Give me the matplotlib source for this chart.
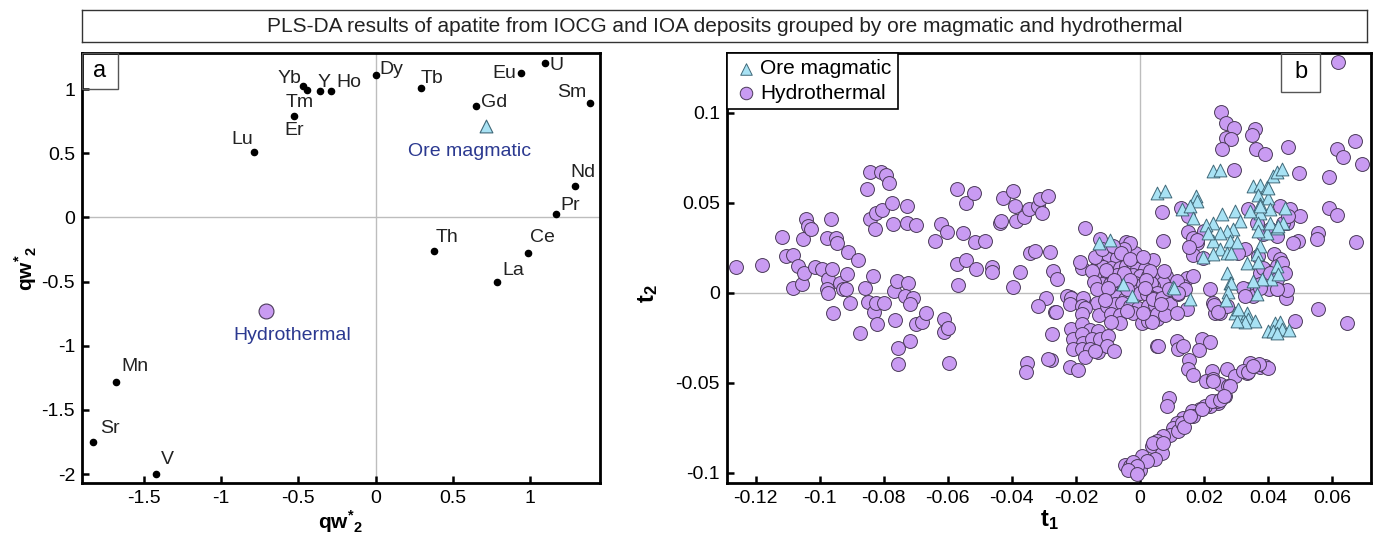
import matplotlib
matplotlib.use("Agg")
import matplotlib.pyplot as plt
from matplotlib.ticker import FuncFormatter, MultipleLocator
from matplotlib.patches import Rectangle

plt.rcParams['font.family'] = ['Liberation Sans', 'DejaVu Sans']
plt.rcParams['axes.unicode_minus'] = False
plt.rcParams['mathtext.fontset'] = 'custom'
plt.rcParams['mathtext.rm'] = 'Liberation Sans'
plt.rcParams['mathtext.bf'] = 'Liberation Sans:bold'

# ---- panel a: loadings ----
elements = ['Yb', 'Tm', 'Er', 'Y', 'Ho', 'Dy', 'Tb', 'Lu', 'Th', 'Gd', 'Eu', 'U',
            'Sm', 'Nd', 'Pr', 'Ce', 'La', 'Mn', 'Sr', 'V']
load_x = [-0.468, -0.446, -0.528, -0.36, -0.29, 0.0, 0.293, -0.788, 0.379, 0.652, 0.941, 1.099,
          1.385, 1.294, 1.168, 0.985, 0.786, -1.68, -1.826, -1.421]
load_y = [1.021, 0.99, 0.787, 0.985, 0.985, 1.11, 1.011, 0.512, -0.262, 0.871, 1.125, 1.203,
          0.896, 0.247, 0.026, -0.278, -0.507, -1.283, -1.754, -2.003]
groups = ['Ore magmatic', 'Hydrothermal']
group_x = [0.714, -0.709]
group_y = [0.709, -0.727]

# label offsets in points (dx, dy)
label_offsets = {
    'Yb': (-10, 5.5), 'Tm': (-5, -9), 'Er': (0, -10), 'Y': (3, 6.5), 'Ho': (13, 6),
    'Dy': (11.5, 4), 'Tb': (8, 6.5), 'Lu': (-8, 9), 'Th': (9, 10), 'Gd': (12.5, 2.5),
    'Eu': (-12, 0), 'U': (8, -2), 'Sm': (-12.5, 7.5), 'Nd': (5.5, 9.5), 'Pr': (10, 6),
    'Ce': (10.5, 11), 'La': (11.5, 8.5), 'Mn': (14, 11), 'Sr': (12, 10), 'V': (8.5, 11),
}

# ---- panel b: scores ----
hydro_points = [
    (-0.1263, 0.0144), (-0.1180, 0.0152), (-0.1117, 0.0311), (-0.1106, 0.0203), (-0.1085, 0.0207),
    (-0.1083, 0.0028), (-0.1068, 0.0148), (-0.1054, 0.0296), (-0.1056, 0.0050), (-0.1050, 0.0107),
    (-0.1044, 0.0407), (-0.1037, 0.0370), (-0.1026, 0.0352), (-0.1016, 0.0144), (-0.0992, 0.0129),
    (-0.0979, 0.0306), (-0.0974, 0.0074), (-0.0979, 0.0018), (-0.0974, 0.0000), (-0.0964, 0.0411),
    (-0.0961, 0.0133), (-0.0948, 0.0306), (-0.0946, 0.0274), (-0.0938, 0.0052), (-0.0929, 0.0022),
    (-0.0915, 0.0102), (-0.0917, 0.0018), (-0.0911, 0.0228), (-0.0882, 0.0179), (-0.0859, 0.0026),
    (-0.0854, 0.0574), (-0.0844, 0.0672), (-0.0842, 0.0407), (-0.0833, 0.0093), (-0.0828, 0.0356),
    (-0.0823, 0.0444), (-0.0810, 0.0670), (-0.0807, 0.0459), (-0.0792, 0.0652), (-0.0783, 0.0611),
    (-0.0776, 0.0500), (-0.0771, 0.0383), (-0.0768, 0.0009), (-0.0760, 0.0064), (-0.0729, 0.0481),
    (-0.0729, 0.0389), (-0.0724, 0.0055), (-0.0734, -0.0019), (-0.0698, 0.0376), (-0.0708, -0.0028),
    (-0.0641, 0.0287), (-0.0620, 0.0380), (-0.0602, 0.0337), (-0.0570, 0.0574), (-0.0570, 0.0157),
    (-0.0568, 0.0042), (-0.0554, 0.0329), (-0.0544, 0.0179), (-0.0542, 0.0500), (-0.0519, 0.0556),
    (-0.0516, 0.0281), (-0.0512, 0.0129), (-0.0484, 0.0287), (-0.0463, 0.0144), (-0.0463, 0.0117),
    (-0.0438, 0.0389), (-0.0434, 0.0398), (-0.0427, 0.0524), (-0.0398, 0.0031), (-0.0396, 0.0565),
    (-0.0391, 0.0481), (-0.0388, 0.0398), (-0.0375, 0.0115), (-0.0361, 0.0422), (-0.0346, 0.0463),
    (-0.0344, 0.0218), (-0.0328, 0.0229), (-0.0318, 0.0481), (-0.0313, 0.0518), (-0.0307, 0.0440),
    (-0.0287, 0.0537), (-0.0281, 0.0228), (-0.0273, 0.0120), (-0.0260, 0.0074), (-0.0292, -0.0028),
    (-0.0318, -0.0074),
    (-0.0958, -0.0111), (-0.0906, -0.0059), (-0.0875, -0.0226), (-0.0849, -0.0052), (-0.0831, -0.0108),
    (-0.0825, -0.0059), (-0.0821, -0.0171), (-0.0800, -0.0056), (-0.0766, -0.0152), (-0.0755, -0.0306),
    (-0.0755, -0.0393), (-0.0719, -0.0065), (-0.0719, -0.0269), (-0.0698, -0.0176), (-0.0682, -0.0163),
    (-0.0669, -0.0115), (-0.0613, -0.0144), (-0.0613, -0.0219), (-0.0599, -0.0198), (-0.0596, -0.0389),
    (-0.0354, -0.0389), (-0.0356, -0.0441), (-0.0279, -0.0374), (-0.0287, -0.0370), (-0.0276, -0.0228),
    (-0.0266, -0.0106),
    (0.0620, 0.1283), (0.0252, 0.1003), (0.0268, 0.0941), (0.0295, 0.0913), (0.0269, 0.0861),
    (0.0284, 0.0856), (0.0255, 0.0800), (0.0359, 0.0907), (0.0349, 0.0874), (0.0363, 0.0796),
    (0.0391, 0.0772), (0.0464, 0.0811), (0.0672, 0.0842), (0.0615, 0.0796), (0.0633, 0.0755),
    (0.0695, 0.0716), (0.0295, 0.0681), (0.0497, 0.0667), (0.0591, 0.0642), (0.0592, 0.0468),
    (0.0615, 0.0429), (0.0675, 0.0281), (0.0557, 0.0329), (0.0554, 0.0300), (0.0493, 0.0287),
    (0.0479, 0.0278), (0.0068, 0.0448), (0.0071, 0.0287), (0.0127, 0.0472), (0.0151, 0.0426),
    (0.0149, 0.0337), (0.0167, 0.0306), (0.0177, 0.0278), (0.0200, 0.0342), (0.0167, 0.0207),
    (0.0219, 0.0018), (0.0328, 0.0244), (0.0307, 0.0222), (0.0338, 0.0463), (0.0365, 0.0389),
    (0.0385, 0.0324), (0.0406, 0.0352), (0.0427, 0.0315), (0.0438, 0.0481), (0.0469, 0.0463),
    (0.0500, 0.0426), (0.0458, 0.0389), (0.0370, 0.0203), (0.0419, 0.0213), (0.0438, 0.0185),
    (0.0396, 0.0120), (0.0427, 0.0148), (0.0375, 0.0111), (0.0404, 0.0022), (0.0432, 0.0022),
    (0.0456, -0.0028), (0.0458, 0.0015), (0.0328, 0.0022), (0.0557, -0.0089),
    (-0.0172, 0.0361), (-0.0182, 0.0139), (-0.0188, 0.0170), (-0.0219, -0.0022), (-0.0172, -0.0070),
    (-0.0125, 0.0300), (-0.0042, 0.0281), (0.0042, 0.0181), (-0.0016, 0.0222),
    (0.0177, 0.0293), (0.0154, 0.0256), (0.0198, 0.0194), (0.0448, 0.0389), (0.0464, 0.0426),
    (0.0443, 0.0167), (0.0146, 0.0083), (0.0167, 0.0093), (0.0136, 0.0037), (0.0083, 0.0093),
    (0.0052, 0.0093), (0.0115, 0.0065), (0.0073, 0.0056), (0.0042, 0.0037), (0.0385, 0.0139),
    (0.0406, 0.0111), (0.0427, 0.0074), (0.0375, 0.0046), (0.0344, 0.0019), (0.0323, 0.0028),
    (0.0354, -0.0018), (0.0453, 0.0111),
    (-0.0031, 0.0278), (-0.0050, 0.0244), (-0.0109, 0.0222), (-0.0099, 0.0185), (-0.0073, 0.0194),
    (-0.0130, 0.0157), (-0.0115, 0.0144), (-0.0089, 0.0139), (-0.0063, 0.0139), (-0.0042, 0.0148),
    (-0.0021, 0.0167), (-0.0010, 0.0130), (0.0016, 0.0133),
    (-0.0125, 0.0093), (-0.0099, 0.0093), (-0.0073, 0.0096), (-0.0047, 0.0093), (-0.0021, 0.0096),
    (0.0000, 0.0093), (0.0026, 0.0093), (-0.0120, 0.0046), (-0.0094, 0.0046), (-0.0068, 0.0052),
    (-0.0042, 0.0052), (-0.0016, 0.0055), (0.0010, 0.0046), (0.0036, 0.0052), (-0.0115, 0.0000),
    (-0.0083, -0.0004), (-0.0057, -0.0004), (0.0000, 0.0000), (0.0026, -0.0004), (0.0052, -0.0004),
    (-0.0229, -0.0019), (-0.0214, -0.0028), (-0.0177, -0.0028), (-0.0219, -0.0065), (-0.0182, -0.0074),
    (-0.0135, -0.0056), (-0.0262, -0.0107), (-0.0172, -0.0083), (-0.0182, -0.0120), (-0.0127, -0.0126),
    (-0.0099, -0.0009), (-0.0073, -0.0022), (-0.0047, -0.0033), (0.0021, -0.0009), (0.0042, -0.0028),
    (-0.0104, -0.0074), (-0.0078, -0.0065), (-0.0057, -0.0056), (-0.0031, -0.0074), (-0.0005, -0.0083),
    (0.0026, -0.0074), (0.0047, -0.0070), (-0.0089, -0.0120), (-0.0063, -0.0126), (-0.0021, -0.0115),
    (0.0005, -0.0167), (0.0026, -0.0157), (0.0052, -0.0144), (-0.0063, -0.0167), (0.0052, -0.0296),
    (-0.0214, -0.0204), (-0.0182, -0.0176), (-0.0156, -0.0207), (-0.0130, -0.0213), (-0.0208, -0.0259),
    (-0.0182, -0.0231), (-0.0177, -0.0278), (-0.0151, -0.0259), (-0.0125, -0.0259), (-0.0099, -0.0241),
    (-0.0208, -0.0311), (-0.0182, -0.0315), (-0.0156, -0.0311), (-0.0130, -0.0330), (-0.0102, -0.0293),
    (-0.0081, -0.0324), (-0.0172, -0.0355), (-0.0141, -0.0324), (-0.0219, -0.0411), (-0.0193, -0.0430),
    (0.0042, -0.0037), (0.0068, -0.0028), (0.0094, -0.0065), (0.0120, -0.0009), (0.0146, -0.0089),
    (0.0052, -0.0120), (0.0078, -0.0126), (0.0115, -0.0111), (0.0037, -0.0163), (0.0229, -0.0059),
    (0.0234, -0.0111), (0.0250, -0.0115), (0.0271, -0.0074), (0.0231, -0.0070), (0.0245, -0.0107),
    (0.0328, -0.0019), (0.0427, 0.0022), (0.0375, 0.0028), (0.0484, -0.0157), (0.0648, -0.0170),
    (0.0057, -0.0296), (0.0115, -0.0269), (0.0120, -0.0315), (0.0136, -0.0293), (0.0193, -0.0259),
    (0.0219, -0.0274), (0.0186, -0.0319), (0.0154, -0.0374), (0.0151, -0.0426), (0.0167, -0.0454),
    (0.0224, -0.0435), (0.0208, -0.0491), (0.0227, -0.0481), (0.0250, -0.0509), (0.0273, -0.0422),
    (0.0297, -0.0463), (0.0276, -0.0519), (0.0266, -0.0574), (0.0245, -0.0611), (0.0219, -0.0630),
    (0.0344, -0.0389), (0.0335, -0.0444), (0.0375, -0.0411), (0.0391, -0.0404), (0.0401, -0.0417),
    (0.0323, -0.0435), (0.0092, -0.0583), (0.0085, -0.0626), (0.0339, -0.0441), (0.0373, -0.0398),
    (0.0354, -0.0407), (0.0229, -0.0491), (0.0281, -0.0515),
    (0.0188, -0.0648), (0.0162, -0.0657), (0.0136, -0.0694), (0.0115, -0.0722), (0.0104, -0.0750),
    (0.0094, -0.0787), (0.0073, -0.0796), (0.0052, -0.0824), (0.0037, -0.0852), (0.0068, -0.0889),
    (0.0120, -0.0768), (0.0167, -0.0685), (0.0203, -0.0630), (0.0240, -0.0602), (0.0047, -0.0922),
    (0.0042, -0.0833), (0.0073, -0.0833), (0.0130, -0.0722), (0.0138, -0.0744), (0.0156, -0.0685),
    (0.0193, -0.0644), (0.0224, -0.0602), (0.0250, -0.0593), (0.0263, -0.0574),
    (-0.0047, -0.0954), (-0.0031, -0.0963), (-0.0016, -0.0991), (0.0000, -0.0982), (0.0005, -0.0907),
    (0.0021, -0.0935), (-0.0023, -0.0941), (-0.0010, -0.0959), (-0.0036, -0.0985), (-0.0008, -0.1004),
    (-0.0140, 0.0200), (-0.0120, 0.0240), (-0.0085, 0.0260), (-0.0060, 0.0220), (-0.0030, 0.0190),
    (0.0010, 0.0200), (-0.0150, 0.0120), (-0.0145, 0.0060), (-0.0135, 0.0020), (0.0075, 0.0120),
    (0.0090, 0.0020), (0.0065, -0.0060), (-0.0105, 0.0125), (-0.0050, 0.0110), (0.0030, 0.0120),
    (-0.0080, 0.0070), (-0.0030, 0.0070), (0.0020, 0.0070), (-0.0100, 0.0025), (-0.0040, 0.0020),
    (0.0015, 0.0025), (-0.0110, -0.0040), (-0.0040, -0.0100), (0.0010, -0.0110), (-0.0090, -0.0160),
    (0.0140, 0.0020), (0.0120, 0.0000),
]
ore_points = [
    (0.0229, 0.0676), (0.0250, 0.0681), (0.0052, 0.0555), (0.0078, 0.0565), (0.0175, 0.0537),
    (0.0177, 0.0509), (0.0130, 0.0467), (0.0156, 0.0481), (0.0165, 0.0417), (0.0354, 0.0593),
    (0.0375, 0.0596), (0.0396, 0.0589), (0.0417, 0.0648), (0.0427, 0.0670), (0.0443, 0.0689),
    (0.0370, 0.0541), (0.0401, 0.0528), (0.0375, 0.0491), (0.0406, 0.0467), (0.0375, 0.0444),
    (0.0344, 0.0454), (0.0453, 0.0472), (0.0255, 0.0435), (0.0297, 0.0454), (0.0313, 0.0398),
    (0.0229, 0.0389), (0.0208, 0.0374), (0.0292, 0.0352), (0.0271, 0.0342), (0.0250, 0.0333),
    (0.0281, 0.0287), (0.0302, 0.0281), (0.0229, 0.0287), (0.0214, 0.0330), (0.0250, 0.0241),
    (0.0271, 0.0222), (0.0229, 0.0213), (0.0198, 0.0200), (0.0286, 0.0222), (0.0370, 0.0389),
    (0.0396, 0.0333), (0.0427, 0.0361), (0.0448, 0.0389), (0.0406, 0.0389), (0.0370, 0.0343),
    (0.0375, 0.0259), (0.0333, 0.0167), (0.0365, 0.0213), (0.0427, 0.0148), (0.0411, 0.0074),
    (0.0380, 0.0078), (0.0354, 0.0065), (0.0365, -0.0009), (0.0271, 0.0111), (0.0281, 0.0055),
    (0.0156, -0.0033), (0.0104, 0.0033), (-0.0052, 0.0046), (-0.0026, -0.0019), (-0.0128, 0.0278),
    (-0.0094, 0.0292), (0.0286, 0.0052), (0.0276, 0.0004), (0.0269, -0.0041), (0.0297, -0.0111),
    (0.0313, -0.0130), (0.0333, -0.0111), (0.0339, -0.0148), (0.0359, -0.0157), (0.0328, -0.0163),
    (0.0302, -0.0157), (0.0307, -0.0089), (0.0422, -0.0167), (0.0438, -0.0163), (0.0401, -0.0213),
    (0.0417, -0.0213), (0.0443, -0.0204), (0.0467, -0.0207), (0.0427, -0.0222), (0.0370, 0.0170),
    (0.0432, 0.0102), (0.0106, 0.0028), (0.0401, 0.0583), (0.0375, 0.0481), (0.0432, 0.0370),
]
hydro_t1 = [p[0] for p in hydro_points]
hydro_t2 = [p[1] for p in hydro_points]
ore_t1 = [p[0] for p in ore_points]
ore_t2 = [p[1] for p in ore_points]

purple = '#c99bf2'
purple_edge = '#4a3a58'
blue = '#a8e2f4'
blue_edge = '#3f6878'


def tick_fmt(v, pos):
    if abs(v) < 1e-9:
        return '0'
    return '%g' % round(v, 6)


def style_axes(ax):
    for s in ax.spines.values():
        s.set_linewidth(2)
        s.set_color('black')
    ax.tick_params(direction='in', length=5, width=1.8, labelsize=14, top=False, right=False,
                   pad=5)
    ax.xaxis.set_major_formatter(FuncFormatter(tick_fmt))
    ax.yaxis.set_major_formatter(FuncFormatter(tick_fmt))
    ax.axhline(0, color='#bdbdbd', lw=1, zorder=0)
    ax.axvline(0, color='#bdbdbd', lw=1, zorder=0)


qw_label = r'$\mathbf{qw}^{\mathbf{*}}{}_{\mathbf{2}}$'

fig = plt.figure(figsize=(13.8, 5.36), dpi=100)

# title box
tax = fig.add_axes([0.0594, 0.9216, 0.931, 0.0597])
tax.set_xticks([])
tax.set_yticks([])
for s in tax.spines.values():
    s.set_linewidth(1)
    s.set_color('#333333')
tax.text(0.5, 0.48, 'PLS-DA results of apatite from IOCG and IOA deposits grouped by ore magmatic and hydrothermal',
         ha='center', va='center', fontsize=15, color='#222222')

# panel a
ax1 = fig.add_axes([0.0594, 0.0989, 0.3754, 0.802])
style_axes(ax1)
ax1.set_xlim(-1.90, 1.453)
ax1.set_ylim(-2.07, 1.281)
ax1.xaxis.set_major_locator(MultipleLocator(0.5))
ax1.yaxis.set_major_locator(MultipleLocator(0.5))
ax1.scatter(load_x, load_y, s=20, color='black', zorder=3)
for name, x, y in zip(elements, load_x, load_y):
    dx, dy = label_offsets[name]
    ax1.annotate(name, (x, y), xytext=(dx, dy), textcoords='offset points',
                 ha='center', va='center', fontsize=14, color='#222222')
ax1.scatter(group_x[:1], group_y[:1], marker='^', s=85, color=blue, edgecolor=blue_edge,
            linewidth=0.8, zorder=3)
ax1.scatter(group_x[1:], group_y[1:], marker='o', s=115, color=purple, edgecolor=purple_edge,
            linewidth=0.8, zorder=3)
ax1.text(0.61, 0.515, groups[0], ha='center', va='center', fontsize=14, color='#2b3990')
ax1.text(-0.54, -0.92, groups[1], ha='center', va='center', fontsize=14, color='#2b3990')
ax1.set_xlabel(qw_label, fontsize=15, labelpad=0)
ax1.set_ylabel(qw_label, fontsize=15, labelpad=2)
ax1.xaxis.set_label_coords(0.5, -0.058)
ax1.add_patch(Rectangle((0, 0.9163), 0.0695, 0.0837, transform=ax1.transAxes, fill=False,
                        edgecolor='#555555', lw=1, zorder=5))
ax1.text(0.0348, 0.958, 'a', transform=ax1.transAxes, ha='center', va='center', fontsize=17)

# panel b
ax2 = fig.add_axes([0.5268, 0.0989, 0.4667, 0.802])
style_axes(ax2)
ax2.set_xlim(-0.129, 0.0722)
ax2.set_ylim(-0.1056, 0.133)
ax2.xaxis.set_major_locator(MultipleLocator(0.02))
ax2.yaxis.set_major_locator(MultipleLocator(0.05))
h2 = ax2.scatter(hydro_t1, hydro_t2, marker='o', s=100, color=purple, edgecolor=purple_edge,
                 linewidth=0.7, zorder=2, label='Hydrothermal')
h1 = ax2.scatter(ore_t1, ore_t2, marker='^', s=85, color=blue, edgecolor=blue_edge,
                 linewidth=0.7, zorder=3, label='Ore magmatic')
leg = ax2.legend(handles=[h1, h2], loc='upper left', fontsize=15, frameon=True, fancybox=False,
                 framealpha=1, edgecolor='black', borderaxespad=0, handletextpad=0.1,
                 borderpad=0.3, labelspacing=0.25, handlelength=1.2, markerscale=0.9)
leg.get_frame().set_linewidth(1.2)
leg.set_zorder(6)
ax2.set_xlabel(r'$\mathbf{t_1}$', fontsize=17, labelpad=0)
ax2.xaxis.set_label_coords(0.5, -0.058)
ax2.set_ylabel(r'$\mathbf{t_2}$', fontsize=17)
ax2.yaxis.set_label_coords(-0.104, 0.44)
ax2.add_patch(Rectangle((0.860, 0.909), 0.061, 0.091, transform=ax2.transAxes, fill=False,
                        edgecolor='#555555', lw=1, zorder=5))
ax2.text(0.8905, 0.955, 'b', transform=ax2.transAxes, ha='center', va='center', fontsize=17)

fig.savefig('out.png', dpi=100)
